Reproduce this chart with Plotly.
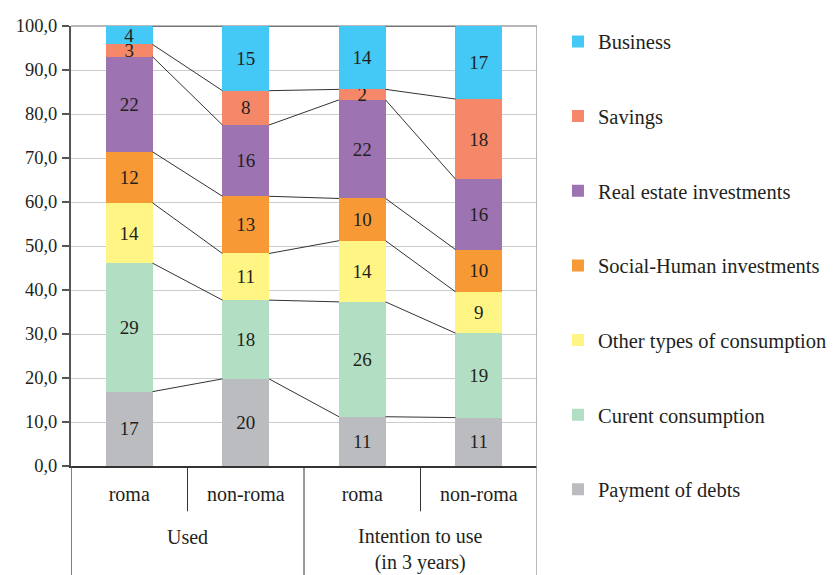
import numpy as np
import plotly.graph_objects as go

# ---- data ----
sub_labels = ["roma", "non-roma", "roma", "non-roma"]
group_labels = ["Used", "Intention to use<br>(in 3 years)"]
series_names = ["Payment of debts", "Curent consumption", "Other types of consumption",
                "Social-Human investments", "Real estate investments", "Savings", "Business"]
payment = [16.9, 19.8, 11.2, 11.0]
current = [29.2, 17.9, 26.1, 19.2]
other = [13.7, 10.6, 13.9, 9.4]
social = [11.6, 13.0, 9.6, 9.6]
real_estate = [21.6, 16.2, 22.4, 16.0]
savings = [2.8, 7.8, 2.4, 18.2]
business = [4.2, 14.7, 14.4, 16.6]

series_values = [payment, current, other, social, real_estate, savings, business]
colors = ["#bbbcc0", "#b2dfc3", "#fff584", "#f79a36", "#9d74b1", "#f58868", "#44c8f5"]

FONT = "Liberation Serif"
TXT = "#231f20"
pos = list(range(len(sub_labels)))
bw = 0.4
n = len(series_names)

fig = go.Figure()
for i, (name, vals, col) in enumerate(zip(series_names, series_values, colors)):
    fig.add_trace(go.Bar(
        x=pos, y=vals, name=name, width=bw, marker=dict(color=col, line=dict(width=0)),
        texttemplate="%{y:.0f}", textposition="inside", insidetextanchor="middle",
        textangle=0, constraintext="none", textfont=dict(family=FONT, size=19, color=TXT),
        legendgroup=f"g{i}", legendrank=n - i, hoverinfo="skip"))

# series lines connecting segment tops between neighbouring bars
cum = np.cumsum(np.array(series_values), axis=0)
for k in range(cum.shape[0]):
    xs, ys = [], []
    for i in range(len(pos) - 1):
        xs += [pos[i] + bw / 2, pos[i + 1] - bw / 2, None]
        ys += [cum[k][i], cum[k][i + 1], None]
    fig.add_trace(go.Scatter(x=xs, y=ys, mode="lines", line=dict(color="#333333", width=1),
                             showlegend=False, hoverinfo="skip", cliponaxis=False))

# table-like category axis decoration
shapes = []
def vline(x, y0, y1, color, w=1):
    shapes.append(dict(type="line", xref="x", yref="paper", x0=x, x1=x, y0=y0, y1=y1,
                       line=dict(color=color, width=w)))
vline(-0.5, 0, -0.26, "#555555", 1.5)
vline(0.5, 0, -0.103, "#333333", 1)
vline(1.5, 0, -0.26, "#333333", 1)
vline(2.5, 0, -0.103, "#333333", 1)
vline(3.5, 1, -0.26, "#a0a0a0", 1.5)
shapes.append(dict(type="line", xref="x", yref="paper", x0=-0.5, x1=3.5, y0=1, y1=1,
                   line=dict(color="#a0a0a0", width=1.5), layer="below"))

annotations = [
    dict(x=0.5, xref="x", y=-0.161, yref="paper", text=group_labels[0], showarrow=False,
         font=dict(family=FONT, size=20, color=TXT), yanchor="middle"),
    dict(x=2.5, xref="x", y=-0.19, yref="paper", text=group_labels[1], showarrow=False,
         font=dict(family=FONT, size=20, color=TXT), yanchor="middle"),
]

fig.update_layout(
    width=831, height=567,
    margin=dict(l=63, r=302, t=18, b=109, autoexpand=False),
    barmode="stack", bargap=0.6,
    paper_bgcolor="white", plot_bgcolor="white",
    separators=",.",
    font=dict(family=FONT, size=19, color=TXT),
    shapes=shapes, annotations=annotations,
    xaxis=dict(range=[-0.5, 3.5], tickvals=pos, ticktext=sub_labels, ticks="",
               showgrid=False, zeroline=False, showline=True, linecolor="#333333", linewidth=1.5,
               tickfont=dict(family=FONT, size=20, color=TXT), ticklabelstandoff=9,
               fixedrange=True, automargin=False),
    yaxis=dict(range=[0, 100], dtick=10, tickformat=".1f", showgrid=True, gridcolor="#cccccc",
               gridwidth=1, zeroline=False, showline=True, linecolor="#555555", linewidth=2,
               ticks="outside", ticklen=7, tickcolor="#555555", tickwidth=1.5,
               tickfont=dict(family=FONT, size=18.5, color=TXT), ticklabelstandoff=1,
               automargin=False),
    legend=dict(x=1.045, xanchor="left", y=1.01, yanchor="top", traceorder="grouped",
                tracegroupgap=45, font=dict(family=FONT, size=20.5, color=TXT),
                bgcolor="rgba(0,0,0,0)", itemclick=False, itemdoubleclick=False,
                maxheight=567),
    showlegend=True,
)

fig.write_html("out.html")
